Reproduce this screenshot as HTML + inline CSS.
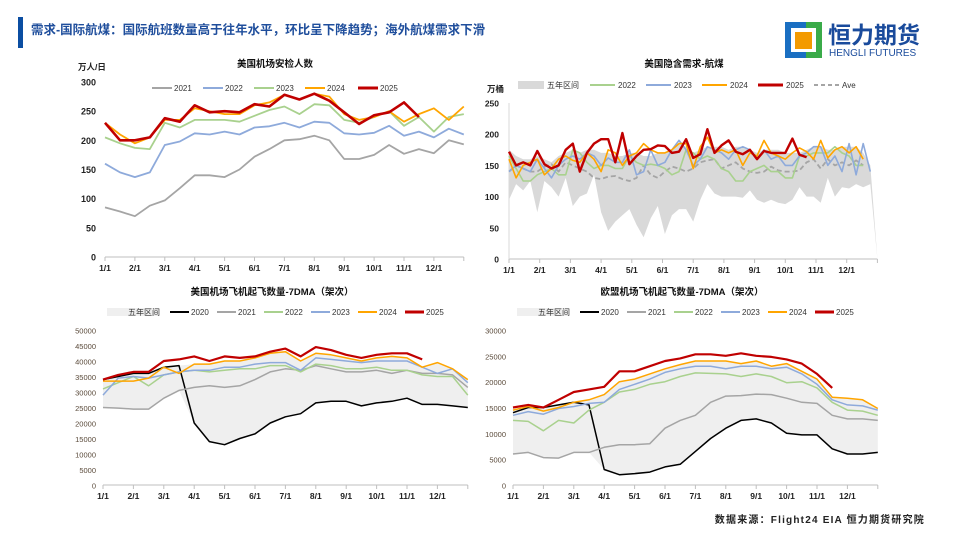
<!DOCTYPE html>
<html><head><meta charset="utf-8"><style>
body{margin:0;background:#fff;}
svg text{font-family:"Liberation Sans","Noto Sans CJK SC",sans-serif;}
</style></head><body>
<svg id="root" width="960" height="540" viewBox="0 0 960 540" xmlns="http://www.w3.org/2000/svg">
<rect x="0" y="0" width="960" height="540" fill="#fff"/>
<rect x="18" y="17" width="5" height="31" fill="#0b4ea2"/>
<text x="31" y="34" font-size="12.5" font-weight="bold" fill="#1f4e9c">需求-国际航煤：国际航班数量高于往年水平，环比呈下降趋势；海外航煤需求下滑</text>
<g>
<rect x="785" y="22" width="37" height="36" fill="#1a6fc2"/>
<rect x="806" y="22" width="16" height="36" fill="#3aab49"/>
<rect x="791" y="28" width="25" height="24" fill="#fff"/>
<rect x="795" y="32" width="17" height="17" fill="#f39a00"/>
<text x="828" y="43" font-size="23" font-weight="bold" fill="#1a4b9c">恒力期货</text>
<text x="829" y="56" font-size="10" fill="#1a4b9c">HENGLI FUTURES</text>
</g>
<text x="925" y="523" font-size="10" font-weight="bold" fill="#222" text-anchor="end" letter-spacing="1.2">数据来源：Flight24 EIA 恒力期货研究院</text>
<g id="charts"></g>
</svg>
<script>
// ---------- Chart 1 data (semimonthly, 万人/日) ----------
const c1_2021=[85,78,70,88,97,118,140,140,137,150,172,185,200,202,208,200,168,168,175,192,177,185,178,200,193];
const c1_2022=[160,145,137,145,192,198,212,210,215,210,222,224,230,222,232,230,212,210,213,225,208,215,205,220,210];
const c1_2023=[205,195,187,185,230,222,235,235,235,232,242,252,258,245,262,260,235,230,240,250,225,240,215,240,245];
const c1_2024=[230,210,195,205,235,235,255,250,245,245,260,265,278,270,280,275,245,235,240,250,232,245,255,235,258];
const c1_2025=[230,200,200,205,238,232,260,248,250,248,262,258,278,270,280,268,248,228,243,248,265,240];
const c1_yTicks=[0,50,100,150,200,250,300];
// ---------- Chart 2 data (weekly, 万桶) ----------
const c2_bandHigh=[175,165,160,160,165,160,155,165,170,175,170,175,175,170,170,165,165,170,170,165,165,170,170,175,185,180,170,175,180,180,180,175,180,180,175,170,175,175,175,170,170,170,175,180,180,175,175,180,180,180,170,150,0];
const c2_bandLow=[95,120,110,125,75,125,115,100,130,85,100,105,135,75,45,60,70,80,55,35,65,85,40,70,80,80,60,95,120,105,100,100,100,98,110,95,90,95,90,88,95,115,100,100,90,130,100,115,113,120,115,120,0];
const c2_2022=[165,145,125,125,135,140,145,135,135,175,170,155,145,150,150,145,145,165,155,150,152,150,145,135,140,175,170,160,165,160,145,140,125,125,140,145,150,140,140,130,130,165,165,170,170,170,180,170,165,150,150];
const c2_2023=[140,150,145,140,160,145,130,150,160,165,160,170,165,150,162,155,155,175,135,140,175,150,155,175,190,175,150,160,180,175,170,160,175,180,175,160,175,160,165,150,150,165,170,180,180,150,165,140,185,135,185,140];
const c2_2024=[160,130,150,155,160,135,145,160,165,158,155,170,160,140,175,170,150,165,170,185,175,170,170,175,185,185,145,180,195,170,175,170,175,150,170,165,190,170,165,160,170,178,172,160,190,162,175,180,170,180,160];
const c2_2025=[172,150,155,150,173,152,145,150,175,185,140,170,185,192,192,155,202,152,165,175,176,182,181,170,172,192,162,168,208,170,182,190,172,168,175,160,173,170,170,170,193,167,163];
const c2_ave=[140,150,145,140,140,148,152,140,155,150,145,140,130,128,132,133,128,125,130,150,135,130,140,148,145,140,145,155,158,160,145,150,155,145,140,138,140,148,142,140,140,142,155,160,145,160,150,155,150,158,150];
const c2_yTicks=[0,50,100,150,200,250];
// ---------- Chart 3 data (US departures 7DMA, semimonthly) ----------
const c3_2020=[34000,35000,36000,36000,38000,38500,20000,14000,13000,15000,16500,20000,22000,23000,26500,27000,27000,25500,26500,27000,28000,26000,26000,25500,25000];
const c3_2021=[25000,24800,24500,24500,28000,30500,31500,32000,31500,32000,34000,36500,37500,37000,38500,37500,36500,36500,37000,36000,37000,36000,36000,35500,31500];
const c3_2022=[31000,33000,35000,32000,35500,36500,37000,36500,37000,37500,37500,38500,38500,36500,39000,38500,37500,37500,38000,37000,37000,35500,35000,35000,29000];
const c3_2023=[29000,34500,35000,34500,35500,36500,37000,37000,38000,38000,39000,39500,39500,37000,41000,40500,40000,39500,40000,40000,40000,38000,36000,37500,33000];
const c3_2024=[33500,33500,33500,34500,38000,36000,39000,39000,40000,40000,41000,42500,43000,40000,42500,42000,41000,40000,41000,41500,41000,38000,39500,37500,34000];
const c3_2025=[34000,35500,36500,36500,40000,40500,41500,40000,41500,41000,41500,43000,44000,41500,44500,43500,42000,41000,42000,42500,42500,40500];
const c3_yTicks=[0,5000,10000,15000,20000,25000,30000,35000,40000,45000,50000];
// ---------- Chart 4 data (EU departures 7DMA, semimonthly) ----------
const c4_2020=[14000,15000,15000,15500,16000,15500,3000,2000,2200,2500,3500,4000,6500,9000,11000,12500,12800,12000,10000,9700,9700,7000,6000,6000,6300];
const c4_2021=[6000,6300,5300,5200,6300,6300,7300,7800,7800,8000,11000,12500,13500,16000,17200,17300,17600,17500,16800,16000,15800,13500,12800,12800,12500];
const c4_2022=[12500,12300,10500,12500,12000,14500,16000,18000,18500,19500,20000,21000,21700,21600,21500,21000,21500,21000,19800,20000,18800,16000,14500,14300,13500];
const c4_2023=[13500,14200,13700,14800,15200,15800,16000,18500,19500,20500,21800,22500,23000,23000,22500,23000,23000,22500,22800,21500,19500,16500,15500,15300,14500];
const c4_2024=[14500,15200,14300,15000,16000,16500,17500,20000,20500,21500,22500,23300,24000,24000,24000,23500,24000,23000,23500,22000,20500,17000,16800,16500,14800];
const c4_2025=[15000,15500,15000,16500,18000,18500,19000,22000,22000,23000,24000,24500,25300,25300,25000,25500,25000,24800,24300,23500,21500,18800];
const c4_yTicks=[0,5000,10000,15000,20000,25000,30000];
const monthLabels=["1/1","2/1","3/1","4/1","5/1","6/1","7/1","8/1","9/1","10/1","11/1","12/1"];

const NS="http://www.w3.org/2000/svg";
const root=document.getElementById('charts');
function mk(tag,attrs,parent){const e=document.createElementNS(NS,tag);for(const k in attrs)e.setAttribute(k,attrs[k]);(parent||root).appendChild(e);return e;}
const C={gray:"#a5a5a5",blue:"#8eaadb",green:"#a9d18e",orange:"#ffa500",red:"#c00000",black:"#000"};

function makeChart(cfg){
  const g=mk('g',{});
  
  
  const xs=m=>cfg.x0+m*cfg.mw;
  const ys=v=>cfg.y0-(v/cfg.yMax)*(cfg.y0-cfg.yTop);
  cfg.xs=xs;cfg.ys=ys;cfg.g=g;
  const t=mk('text',{x:cfg.tx,y:cfg.ty,'font-size':9.5,'font-weight':'bold','text-anchor':'middle',fill:'#111'},g);
  t.textContent=cfg.title;
  
  
  if(cfg.unit){const u=mk('text',{x:cfg.ux,y:cfg.uy,'font-size':8.5,'font-weight':'bold',fill:'#222'},g);u.textContent=cfg.unit;
    
    }
  cfg.yTicks.forEach(v=>{const l=mk('text',{x:cfg.x0-cfg.lblOff,y:ys(v)+3.5,'font-size':cfg.yfs,'font-weight':cfg.ybold?'bold':'normal','text-anchor':'end',fill:cfg.ycol||'#222'},g);l.textContent=v;
    
    });
  mk('line',{x1:xs(0),x2:xs(12),y1:cfg.y0,y2:cfg.y0,stroke:'#bfbfbf','stroke-width':1},g);
  if(cfg.yAxis) mk('line',{x1:xs(0),x2:xs(0),y1:cfg.y0,y2:ys(cfg.yTicks[cfg.yTicks.length-1]),stroke:'#d9d9d9','stroke-width':1},g);
  for(let m=0;m<=12;m++) mk('line',{x1:xs(m),x2:xs(m),y1:cfg.y0,y2:cfg.y0+4,stroke:'#bfbfbf'},g);
  monthLabels.forEach((s,m)=>{const l=mk('text',{x:xs(m),y:cfg.y0+14,'font-size':8.5,'font-weight':'bold','text-anchor':'middle',fill:'#222'},g);l.textContent=s;
    
    });
  return cfg;
}
function pts(cfg,arr,per){return arr.map((v,i)=>cfg.xs(i*12/per).toFixed(1)+","+cfg.ys(v).toFixed(1)).join(" ");}
function line(cfg,arr,per,color,w,name,dash){
  const p=mk('polyline',{points:pts(cfg,arr,per),fill:'none',stroke:color,'stroke-width':w,'stroke-linejoin':'round'},cfg.g);
  if(dash)p.setAttribute('stroke-dasharray',dash);
  
  
}
function bandPoly(cfg,hi,lo,per,color,name){
  const a=hi.map((v,i)=>cfg.xs(i*12/per).toFixed(1)+","+cfg.ys(v).toFixed(1));
  const b=lo.map((v,i)=>cfg.xs(i*12/per).toFixed(1)+","+cfg.ys(v).toFixed(1)).reverse();
  const p=mk('polygon',{points:a.concat(b).join(" "),fill:color},cfg.g);
  
  
}
// items: each has x (start), lineLen, textOff
function legend(cfg,items,y,L){
  items.forEach(it=>{
    const g=mk('g',{},cfg.g);
    
    
    if(it.band) mk('rect',{x:it.x,y:y-4,width:it.bw,height:8,fill:it.color},g);
    else{const l=mk('line',{x1:it.x,x2:it.x+L.len,y1:y,y2:y,stroke:it.color,'stroke-width':it.w||2},g);if(it.dash)l.setAttribute('stroke-dasharray',it.dash);}
    const t=mk('text',{x:it.x+(it.band?it.to:L.to),y:y+3,'font-size':8,fill:'#333'},g);t.textContent=it.label;
  });
}

// Chart 1
const ch1=makeChart({name:'us-tsa-chart',title:'美国机场安检人数',tx:275,ty:67,unit:'万人/日',ux:78,uy:70,x0:105,mw:29.9,y0:257,yTop:82,yMax:300,yTicks:c1_yTicks,lblOff:9,yfs:9,ybold:true});
legend(ch1,[{x:152,label:'2021',color:C.gray},{x:203,label:'2022',color:C.blue},{x:254,label:'2023',color:C.green},{x:305,label:'2024',color:C.orange},{x:358,label:'2025',color:C.red,w:3}],88,{len:20,to:22});
line(ch1,c1_2021,24,C.gray,1.8,'series-2021');
line(ch1,c1_2022,24,C.blue,1.8,'series-2022');
line(ch1,c1_2023,24,C.green,1.8,'series-2023');
line(ch1,c1_2024,24,C.orange,1.8,'series-2024');
line(ch1,c1_2025,24,C.red,2.6,'series-2025');

// Chart 2
const ch2=makeChart({name:'us-jet-demand-chart',title:'美国隐含需求-航煤',tx:684,ty:67,unit:'万桶',ux:487,uy:92,x0:509,mw:30.7,y0:259,yTop:103,yMax:250,yTicks:c2_yTicks,lblOff:10,yfs:8.5,ybold:true,yAxis:true});
legend(ch2,[{x:518,label:'五年区间',color:'#d9d9d9',band:true,bw:26,to:29},{x:590,label:'2022',color:C.green},{x:646,label:'2023',color:C.blue},{x:702,label:'2024',color:C.orange},{x:758,label:'2025',color:C.red,w:3},{x:814,label:'Ave',color:'#a5a5a5',dash:'4,3'}],85,{len:25,to:28});
bandPoly(ch2,c2_bandHigh,c2_bandLow,52,'#d9d9d9','five-year-band');
line(ch2,c2_ave,52,'#a5a5a5',1.8,'series-ave','5,3');
line(ch2,c2_2022,52,C.green,1.6,'series-2022');
line(ch2,c2_2023,52,C.blue,1.6,'series-2023');
line(ch2,c2_2024,52,C.orange,1.6,'series-2024');
line(ch2,c2_2025,52,C.red,2.4,'series-2025');

function bandFrom(series){return series[0].map((_,i)=>[Math.max(...series.map(s=>s[i])),Math.min(...series.map(s=>s[i]))]);}

// Chart 3
const ch3=makeChart({name:'us-departures-chart',title:'美国机场飞机起飞数量-7DMA（架次）',tx:272,ty:295,x0:103,mw:30.4,y0:485,yTop:330,yMax:50000,yTicks:c3_yTicks,lblOff:7,yfs:7.5,ycol:'#5a4a3a'});
legend(ch3,[{x:107,label:'五年区间',color:'#efefef',band:true,bw:52,to:21},{x:170,label:'2020',color:C.black},{x:217,label:'2021',color:C.gray},{x:264,label:'2022',color:C.green},{x:311,label:'2023',color:C.blue},{x:358,label:'2024',color:C.orange},{x:405,label:'2025',color:C.red,w:3}],312,{len:19,to:21});
{const b=bandFrom([c3_2020,c3_2021,c3_2022,c3_2023,c3_2024]);bandPoly(ch3,b.map(v=>v[0]),b.map(v=>v[1]),24,'#efefef','five-year-band');}
line(ch3,c3_2020,24,C.black,1.5,'series-2020');
line(ch3,c3_2021,24,C.gray,1.5,'series-2021');
line(ch3,c3_2022,24,C.green,1.5,'series-2022');
line(ch3,c3_2023,24,C.blue,1.5,'series-2023');
line(ch3,c3_2024,24,C.orange,1.5,'series-2024');
line(ch3,c3_2025,24,C.red,2.2,'series-2025');

// Chart 4
const ch4=makeChart({name:'eu-departures-chart',title:'欧盟机场飞机起飞数量-7DMA（架次）',tx:682,ty:295,x0:513,mw:30.4,y0:485,yTop:330,yMax:30000,yTicks:c4_yTicks,lblOff:7,yfs:7.5,ycol:'#5a4a3a'});
legend(ch4,[{x:517,label:'五年区间',color:'#efefef',band:true,bw:52,to:21},{x:580,label:'2020',color:C.black},{x:627,label:'2021',color:C.gray},{x:674,label:'2022',color:C.green},{x:721,label:'2023',color:C.blue},{x:768,label:'2024',color:C.orange},{x:815,label:'2025',color:C.red,w:3}],312,{len:19,to:21});
{const b=bandFrom([c4_2020,c4_2021,c4_2022,c4_2023,c4_2024]);bandPoly(ch4,b.map(v=>v[0]),b.map(v=>v[1]),24,'#efefef','five-year-band');}
line(ch4,c4_2020,24,C.black,1.5,'series-2020');
line(ch4,c4_2021,24,C.gray,1.5,'series-2021');
line(ch4,c4_2022,24,C.green,1.5,'series-2022');
line(ch4,c4_2023,24,C.blue,1.5,'series-2023');
line(ch4,c4_2024,24,C.orange,1.5,'series-2024');
line(ch4,c4_2025,24,C.red,2.2,'series-2025');
</script>
</body></html>
